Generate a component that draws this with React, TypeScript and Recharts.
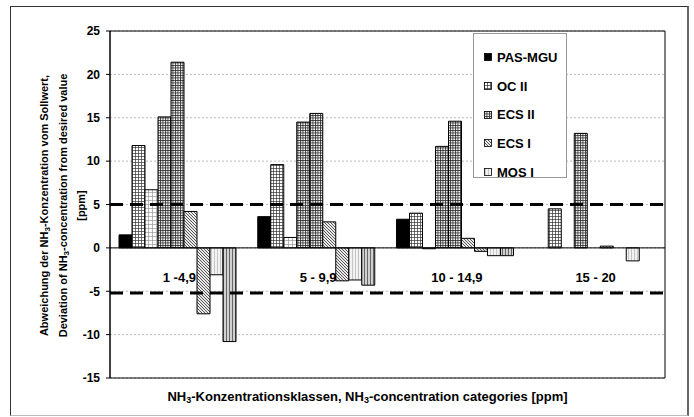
import React from 'react';
import {
    BarChart,
    Bar,
    XAxis,
    YAxis,
    CartesianGrid,
    Legend,
    ReferenceLine,
    ReferenceArea,
} from 'recharts';

const FONT = '"Liberation Sans", Arial, Helvetica, sans-serif';

// NH3 concentration classes
const CATEGORIES = ['1 -4,9', '5 - 9,9', '10 - 14,9', '15 - 20'];

// deviation from desired value [ppm], one array per bar position in a group
const PAS_MGU = [1.5, 3.6, 3.3, null];
const OC_II_A = [11.8, 9.6, 4.0, 4.5];
const OC_II_B = [6.7, 1.2, -0.1, null];
const ECS_II_A = [15.1, 14.5, 11.7, 13.2];
const ECS_II_B = [21.4, 15.5, 14.6, null];
const ECS_I_A = [4.2, 3.0, 1.1, 0.2];
const ECS_I_B = [-7.6, -3.8, -0.4, null];
const MOS_I_A = [-3.1, -3.7, -0.9, -1.5];
const MOS_I_B = [-10.8, -4.3, -0.9, null];

// tolerance limits (dashed lines)
const LIMIT_UPPER = 5;
const LIMIT_LOWER = -5.2;

const Y_TICKS = [-15, -10, -5, 0, 5, 10, 15, 20, 25];

const LEGEND_ORDER = ['PAS-MGU', 'OC II', 'ECS II', 'ECS I', 'MOS I'];

const SERIES = [
    { key: 'pas', name: 'PAS-MGU', values: PAS_MGU, fill: '#000', legend: true },
    { key: 'oc2a', name: 'OC II', values: OC_II_A, fill: 'url(#pOC2a)', legend: true },
    { key: 'oc2b', name: 'OC II (2)', values: OC_II_B, fill: 'url(#pOC2b)', legend: false },
    { key: 'ecs2a', name: 'ECS II', values: ECS_II_A, fill: 'url(#pECS2)', legend: true },
    { key: 'ecs2b', name: 'ECS II (2)', values: ECS_II_B, fill: 'url(#pECS2)', legend: false },
    { key: 'ecs1a', name: 'ECS I', values: ECS_I_A, fill: 'url(#pECS1)', legend: true },
    { key: 'ecs1b', name: 'ECS I (2)', values: ECS_I_B, fill: 'url(#pECS1)', legend: false },
    { key: 'mos1a', name: 'MOS I', values: MOS_I_A, fill: 'url(#pMOS1a)', legend: true },
    { key: 'mos1b', name: 'MOS I (2)', values: MOS_I_B, fill: 'url(#pMOS1b)', legend: false },
];

const data = CATEGORIES.map((name, i) => {
    const row: Record<string, any> = { name };
    SERIES.forEach((s) => {
        row[s.key] = s.values[i];
    });
    return row;
});

// subscript "3" of NH3
function Sub({ children, size }: { children: React.ReactNode; size: number }) {
    return (
        <tspan baselineShift="-25%" fontSize={size}>
            {children}
        </tspan>
    );
}

function CategoryTick(props: any) {
    const { x, y, payload } = props;
    return (
        <text x={x} y={y} dy={-104} textAnchor="middle" fontSize={13} fontWeight="bold" fill="#000" fontFamily={FONT}>
            {payload.value}
        </text>
    );
}

function XTitle(props: any) {
    const vb = props.viewBox || { x: 0, y: 0, width: 0 };
    return (
        <text
            x={vb.x + vb.width / 2 - 20}
            y={vb.y + 23}
            textAnchor="middle"
            fontSize={13}
            fontWeight="bold"
            fill="#000"
            fontFamily={FONT}
        >
            NH<Sub size={9}>3</Sub>-Konzentrationsklassen, NH<Sub size={9}>3</Sub>-concentration categories [ppm]
        </text>
    );
}

function YTitle(props: any) {
    const vb = props.viewBox || { x: 0, y: 0, height: 0 };
    const cy = vb.y + vb.height / 2 + 1;
    const lines: React.ReactNode[] = [
        <>Abweichung der NH<Sub size={8}>3</Sub>-Konzentration vom Sollwert,</>,
        <>Deviation of NH<Sub size={8}>3</Sub>-concentration from desired value</>,
        <>[ppm]</>,
    ];
    const xs = [vb.x + 48, vb.x + 66.5, vb.x + 85];
    return (
        <g>
            {lines.map((l, i) => (
                <text
                    key={i}
                    x={xs[i]}
                    y={cy}
                    transform={`rotate(-90, ${xs[i]}, ${cy})`}
                    textAnchor="middle"
                    fontSize={11}
                    fontWeight="bold"
                    fill="#000"
                    fontFamily={FONT}
                >
                    {l}
                </text>
            ))}
        </g>
    );
}

function LegendBox(props: any) {
    const payload: any[] = props.payload || [];
    const items = LEGEND_ORDER.map((n) => payload.find((p) => p.value === n)).filter(Boolean);
    return (
        <div
            style={{
                width: 94,
                height: 145,
                boxSizing: 'border-box',
                border: '1px solid #999',
                background: '#fff',
                paddingTop: 9,
                fontFamily: FONT,
            }}
        >
            {items.map((it: any) => (
                <div key={it.value} style={{ display: 'flex', alignItems: 'center', height: 28.7, paddingLeft: 10 }}>
                    <svg width={8} height={8} style={{ marginRight: 5 }}>
                        <rect x={0.5} y={0.5} width={7} height={7} fill={it.color} stroke="#000" strokeWidth={0.8} />
                    </svg>
                    <span style={{ fontSize: 13, fontWeight: 'bold', color: '#000' }}>{it.value}</span>
                </div>
            ))}
        </div>
    );
}

export default function App() {
    return (
        <div style={{ position: 'absolute', left: 0, top: 0, width: 694, height: 417, background: '#fff' }}>
            <div
                style={{
                    position: 'absolute',
                    left: 10,
                    top: 6,
                    width: 679,
                    height: 410,
                    boxSizing: 'border-box',
                    borderLeft: '1.5px solid #333',
                    borderTop: '1.5px solid #333',
                    borderRight: '2px solid #666',
                    borderBottom: '1px solid #bbb',
                }}
            />
            <div style={{ position: 'absolute', left: 0, top: 0 }}>
                <BarChart
                    width={694}
                    height={417}
                    data={data}
                    margin={{ top: 31, right: 29, left: 0, bottom: 0 }}
                    barCategoryGap={9}
                    barGap={0}
                >
                    <defs>
                        <pattern id="pOC2a" width={3} height={3} patternUnits="userSpaceOnUse">
                            <rect width={3} height={3} fill="#fff" />
                            <path d="M0 0.5 H3 M0.5 0 V3" stroke="#333" strokeWidth={0.7} />
                        </pattern>
                        <pattern id="pOC2b" width={4} height={4} patternUnits="userSpaceOnUse">
                            <rect width={4} height={4} fill="#fff" />
                            <path d="M0 0.5 H4 M0.5 0 V4" stroke="#999" strokeWidth={0.7} />
                        </pattern>
                        <pattern id="pECS2" width={2.5} height={2.5} patternUnits="userSpaceOnUse">
                            <rect width={2.5} height={2.5} fill="#fff" />
                            <path d="M0 0.5 H2.5 M0.5 0 V2.5" stroke="#222" strokeWidth={0.8} />
                        </pattern>
                        <pattern id="pECS1" width={3} height={3} patternUnits="userSpaceOnUse">
                            <rect width={3} height={3} fill="#e8e8e8" />
                            <path d="M0 0 L3 3 M-1 2 L1 4 M2 -1 L4 1" stroke="#333" strokeWidth={0.8} />
                        </pattern>
                        <pattern id="pMOS1a" width={3} height={3} patternUnits="userSpaceOnUse">
                            <rect width={3} height={3} fill="#f2f2f2" />
                            <path d="M1.5 0 V3" stroke="#bbb" strokeWidth={0.8} />
                        </pattern>
                        <pattern id="pMOS1b" width={3} height={3} patternUnits="userSpaceOnUse">
                            <rect width={3} height={3} fill="#d0d0d0" />
                            <path d="M1.5 0 V3" stroke="#666" strokeWidth={1} />
                        </pattern>
                    </defs>
                    <CartesianGrid vertical={false} stroke="#bbb" strokeDasharray="2 2" />
                    <ReferenceArea y1={-15} y2={25} fill="none" stroke="#000" strokeWidth={1} ifOverflow="visible" />
                    <XAxis
                        dataKey="name"
                        height={39}
                        axisLine={false}
                        tickLine={false}
                        tick={<CategoryTick />}
                        interval={0}
                        label={{ content: (p: any) => <XTitle {...p} /> }}
                    />
                    <YAxis
                        width={110}
                        domain={[-15, 25]}
                        ticks={Y_TICKS}
                        interval={0}
                        tickSize={4}
                        tickMargin={6}
                        axisLine={{ stroke: '#000' }}
                        tickLine={{ stroke: '#000' }}
                        tick={{ fontSize: 12, fontWeight: 'bold', fill: '#000', fontFamily: FONT }}
                        label={{ content: (p: any) => <YTitle {...p} /> }}
                    />
                    <ReferenceLine y={0} stroke="#000" strokeWidth={1} />
                    {SERIES.map((s) => (
                        <Bar
                            key={s.key}
                            dataKey={s.key}
                            name={s.name}
                            fill={s.fill}
                            stroke="#000"
                            strokeWidth={1}
                            legendType={s.legend ? 'square' : 'none'}
                            isAnimationActive={false}
                        />
                    ))}
                    <ReferenceLine y={LIMIT_UPPER} stroke="#000" strokeWidth={3} strokeDasharray="13 7" />
                    <ReferenceLine y={LIMIT_LOWER} stroke="#000" strokeWidth={3} strokeDasharray="13 7" />
                    <Legend
                        layout="vertical"
                        align="center"
                        verticalAlign="middle"
                        content={(p: any) => <LegendBox {...p} />}
                        wrapperStyle={{ left: 473, top: 33, width: 94, height: 145 }}
                    />
                </BarChart>
            </div>
        </div>
    );
}
